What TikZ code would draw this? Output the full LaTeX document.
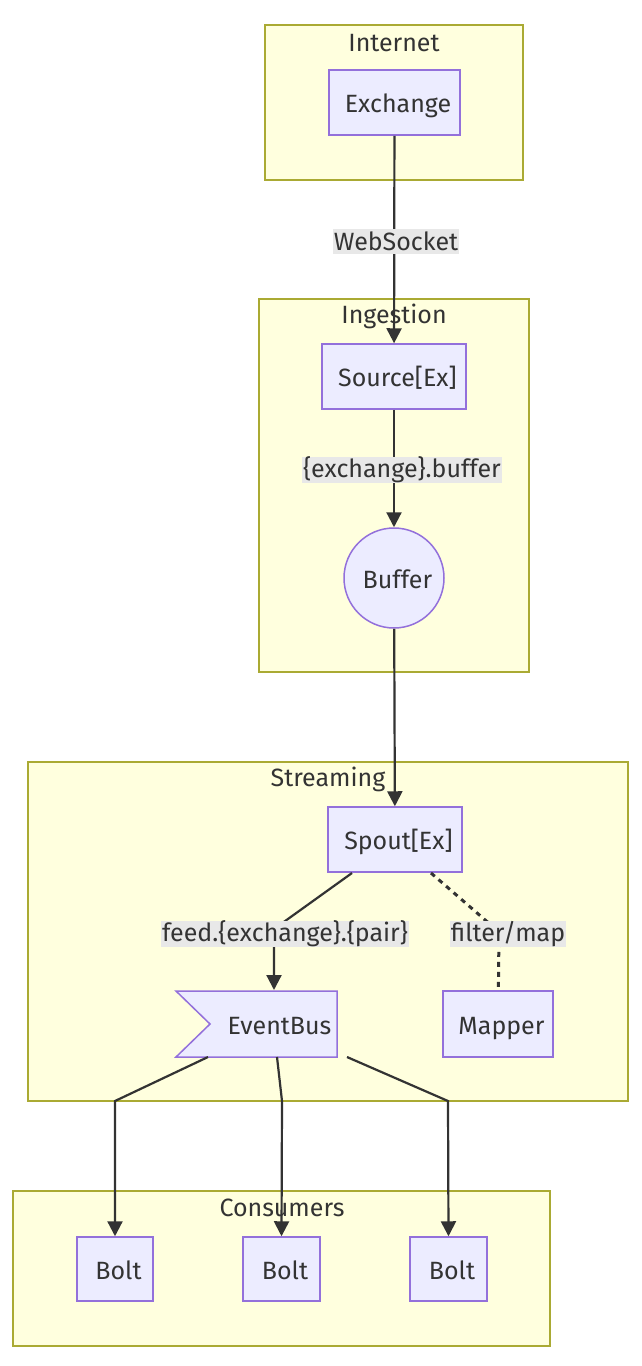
\documentclass[tikz,border=0pt]{standalone}
\usepackage{fontspec}
\setmainfont{Fira Sans}
\usetikzlibrary{arrows.meta}
\definecolor{clfill}{HTML}{FFFFDE}
\definecolor{cldraw}{HTML}{AAAA33}
\definecolor{ndfill}{HTML}{ECECFF}
\definecolor{nddraw}{HTML}{9370DB}
\definecolor{ink}{HTML}{333333}
\definecolor{lblfill}{HTML}{E8E8E8}
\tikzset{
  cluster/.style={draw=cldraw,fill=clfill,line width=0.75pt},
  ctitle/.style={text=ink,font=\fontsize{12.5}{14}\selectfont,inner sep=0pt},
  box/.style={draw=nddraw,fill=ndfill,line width=0.75pt,text=ink,
    font=\fontsize{12.5}{14}\selectfont,inner sep=0pt,
    text height=10pt,text depth=0pt,
    execute at begin node=\hspace*{3.5pt}},
  link/.style={draw=ink,line width=1.1pt,-{Triangle[length=7.5pt,width=7.5pt]}},
  dotlink/.style={draw=ink,line width=1.5pt,dash pattern=on 2.5pt off 2.5pt},
  lbl/.style={fill=lblfill,text=ink,font=\fontsize{12.5}{14}\selectfont,
    inner xsep=0.5pt,inner ysep=0pt,minimum height=12.5pt}
}
\begin{document}
\begin{tikzpicture}[x=0.5pt,y=-0.5pt]
\useasboundingbox (0,0) rectangle (642,1366);

\draw[cluster] (265,25) rectangle (523,180);
\node[ctitle] (tinternet) at (394,43) {Internet};
\draw[cluster] (259,299) rectangle (529,672);
\node[ctitle] (tingestion) at (394,316) {Ingestion};
\draw[cluster] (28,762) rectangle (628,1101);
\node[ctitle] (tstreaming) at (328,779) {Streaming};
\draw[cluster] (13,1191) rectangle (550,1346);
\node[ctitle] (tconsumers) at (282,1208) {Consumers};

\node[box,minimum width=65.5pt,minimum height=32.5pt] (exch) at (394.5,102.5) {Exchange};
\node[box,minimum width=72pt,minimum height=32.5pt] (src) at (394,376.5) {Source[Ex]};
\node[box,circle,minimum size=50pt] (buf) at (394,578) {Buffer};
\node[box,minimum width=67pt,minimum height=32.5pt] (spout) at (395,839.5) {Spout[Ex]};
\draw[box] (176,991) -- (337,991) -- (337,1057) -- (176,1057) -- (210,1024) -- cycle;
\node[box,draw=none,fill=none] (bus) at (276,1024) {EventBus};
\node[box,minimum width=55pt,minimum height=33pt] (mapper) at (498,1024) {Mapper};
\node[box,minimum width=38pt,minimum height=32pt] (bolt1) at (115,1269) {Bolt};
\node[box,minimum width=38.5pt,minimum height=32pt] (bolt2) at (281.5,1269) {Bolt};
\node[box,minimum width=38.5pt,minimum height=32pt] (bolt3) at (448.5,1269) {Bolt};

\coordinate (busa) at (208,1057);
\coordinate (busb) at (277,1057);
\coordinate (busc) at (347,1057);
\coordinate (spa) at (352,873);
\coordinate (spb) at (431,873);

\draw[link] (exch) -- (src);
\draw[link] (src) -- (buf);
\draw[link] (buf) -- (spout);
\draw[link] (spa) -- (274,929) -- (274,990);
\draw[dotlink] (spb) -- (499,932) -- (mapper);
\draw[link] (busa) -- (115,1101) -- (bolt1);
\draw[link] (busb) -- (282,1101) -- (bolt2.north);
\draw[link] (busc) -- (448,1101) -- (bolt3.north);

\node[lbl] (lws) at (396,241) {WebSocket};
\node[lbl] (lbuf) at (402,470) {\{exchange\}.buffer};
\node[lbl] (lfeed) at (285,934) {feed.\{exchange\}.\{pair\}};
\node[lbl] (lmap) at (508,934) {filter/map};
\end{tikzpicture}
\end{document}
